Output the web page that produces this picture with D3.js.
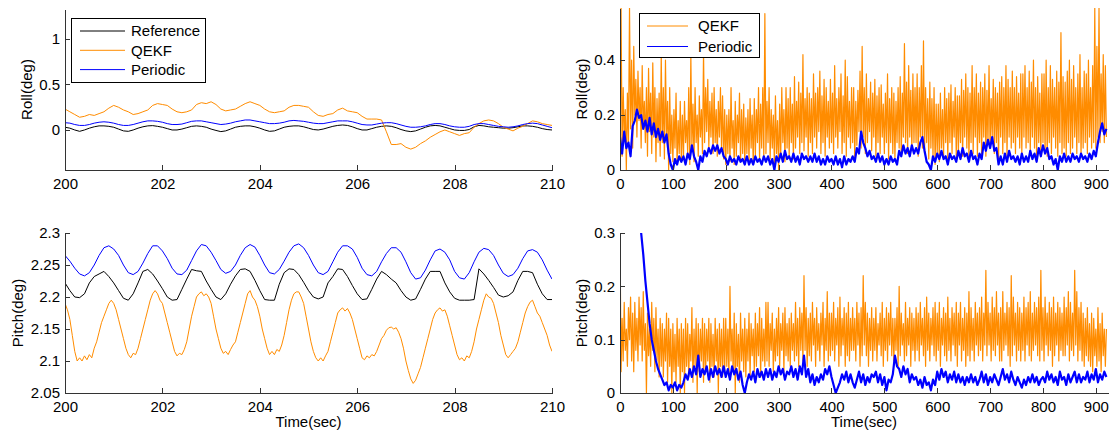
<!DOCTYPE html>
<html>
<head>
<meta charset="utf-8">
<script src="https://cdn.jsdelivr.net/npm/d3@7"></script>
<style>
  body { margin: 0; background: #fff; }
  svg text { font-family: "Liberation Sans", Arial, sans-serif; font-size: 15px; fill: #000; }
</style>
</head>
<body>
<svg id="chart" width="1113" height="434"></svg>
<script>
// ---- data: short window (200-210 s), sampled every 0.1 s unless noted ----
const zoomStart = 200;
const zoomXTicks = [200, 202, 204, 206, 208, 210];
const rollZoomYTicks = [0, 0.5, 1];
const pitchZoomYTicks = [2.05, 2.1, 2.15, 2.2, 2.25, 2.3];

const rollRef = [
  0.03, 0.02, 0.0, -0.015, 0.0, 0.02, 0.035, 0.045, 0.045, 0.04,
  0.03, 0.01, -0.01, -0.015, 0.0, 0.02, 0.035, 0.045, 0.048, 0.04,
  0.03, 0.015, 0.0, 0.0, 0.01, 0.025, 0.04, 0.045, 0.04, 0.03,
  0.01, -0.005, -0.018, -0.01, 0.01, 0.03, 0.04, 0.045, 0.045, 0.035,
  0.02, 0.0, -0.015, -0.01, 0.01, 0.03, 0.04, 0.045, 0.045, 0.035,
  0.02, 0.005, 0.0, 0.01, 0.025, 0.04, 0.05, 0.055, 0.05, 0.035,
  0.015, 0.0, 0.0, 0.015, 0.03, 0.04, 0.045, 0.04, 0.025, 0.005,
  -0.01, -0.018, -0.01, 0.01, 0.03, 0.045, 0.05, 0.045, 0.03, 0.015,
  0.0, -0.005, -0.005, 0.005, 0.035, 0.05, 0.045, 0.035, 0.03, 0.025,
  0.02, 0.02, 0.025, 0.035, 0.045, 0.045, 0.04, 0.03, 0.015, 0.005,
  0.0
];
const rollQekf = [
  0.23, 0.2, 0.17, 0.14, 0.15, 0.17, 0.16, 0.18, 0.2, 0.24,
  0.27, 0.25, 0.22, 0.2, 0.17, 0.18, 0.2, 0.22, 0.27, 0.29,
  0.28, 0.27, 0.23, 0.2, 0.19, 0.2, 0.22, 0.28, 0.3, 0.29,
  0.31, 0.28, 0.23, 0.21, 0.22, 0.23, 0.26, 0.29, 0.31, 0.29,
  0.27, 0.23, 0.2, 0.19, 0.2, 0.21, 0.25, 0.27, 0.27, 0.26,
  0.25, 0.2, 0.16, 0.15, 0.17, 0.18, 0.22, 0.24, 0.21, 0.2,
  0.19, 0.15, 0.12, 0.12, 0.12, 0.11, -0.02, -0.16, -0.16, -0.15,
  -0.19, -0.21, -0.19, -0.15, -0.12, -0.08, -0.05, -0.02, 0.0, -0.02,
  -0.04, -0.06, -0.04, -0.03, 0.03, 0.07, 0.1, 0.11, 0.1, 0.07,
  0.03, 0.01, -0.01, 0.02, 0.04, 0.07, 0.1, 0.09, 0.07, 0.06,
  0.05
];
const rollPer = [
  0.08, 0.075, 0.06, 0.05, 0.05, 0.06, 0.075, 0.085, 0.09, 0.085,
  0.075, 0.06, 0.05, 0.05, 0.06, 0.075, 0.09, 0.1, 0.1, 0.095,
  0.085, 0.07, 0.06, 0.06, 0.065, 0.08, 0.095, 0.1, 0.1, 0.09,
  0.08, 0.07, 0.06, 0.065, 0.075, 0.09, 0.1, 0.11, 0.11, 0.1,
  0.09, 0.08, 0.07, 0.07, 0.075, 0.085, 0.1, 0.105, 0.1, 0.095,
  0.085, 0.075, 0.07, 0.07, 0.08, 0.09, 0.1, 0.1, 0.1, 0.09,
  0.075, 0.06, 0.055, 0.055, 0.065, 0.075, 0.08, 0.08, 0.07, 0.055,
  0.04, 0.03, 0.03, 0.035, 0.045, 0.06, 0.07, 0.07, 0.06, 0.045,
  0.035, 0.03, 0.03, 0.04, 0.06, 0.07, 0.07, 0.06, 0.05, 0.04,
  0.035, 0.03, 0.035, 0.045, 0.06, 0.07, 0.075, 0.07, 0.055, 0.04,
  0.025
];

const pitchRef = [
  2.222, 2.21, 2.2, 2.199, 2.205, 2.222, 2.232, 2.236, 2.24, 2.232,
  2.222, 2.21, 2.198, 2.195, 2.205, 2.222, 2.24, 2.243, 2.236, 2.225,
  2.213, 2.2, 2.195, 2.196, 2.212, 2.228, 2.243, 2.241, 2.24, 2.225,
  2.212, 2.2, 2.196, 2.205, 2.22, 2.233, 2.243, 2.244, 2.24, 2.226,
  2.21, 2.196, 2.195, 2.195, 2.22, 2.238, 2.244, 2.243, 2.235, 2.223,
  2.21, 2.2, 2.197, 2.2, 2.222, 2.232, 2.244, 2.243, 2.232, 2.218,
  2.205, 2.196, 2.197, 2.212, 2.228, 2.24, 2.235, 2.228, 2.222, 2.21,
  2.2, 2.195, 2.197, 2.212, 2.228, 2.24, 2.24, 2.24, 2.222, 2.208,
  2.198, 2.195, 2.195, 2.195, 2.196, 2.244, 2.236, 2.226, 2.215, 2.203,
  2.2, 2.202, 2.208, 2.226, 2.24, 2.24, 2.238, 2.22, 2.205, 2.196,
  2.196
];
// QEKF pitch is noisier, sampled every 0.05 s
const pitchQekf = [
  2.19, 2.18, 2.165, 2.14, 2.115, 2.1, 2.105, 2.1, 2.108, 2.102, 2.11, 2.105, 2.12, 2.13, 2.145, 2.16, 2.17, 2.18, 2.19, 2.195,
  2.19, 2.18, 2.165, 2.15, 2.135, 2.12, 2.11, 2.105, 2.112, 2.11, 2.12, 2.135, 2.15, 2.165, 2.18, 2.195, 2.205, 2.21, 2.205, 2.195,
  2.19, 2.175, 2.16, 2.145, 2.13, 2.115, 2.108, 2.112, 2.11, 2.118, 2.13, 2.15, 2.17, 2.185, 2.2, 2.205, 2.208, 2.202, 2.205, 2.2,
  2.19, 2.17, 2.15, 2.135, 2.12, 2.112, 2.115, 2.11, 2.118, 2.125, 2.13, 2.145, 2.16, 2.175, 2.19, 2.205, 2.21, 2.2, 2.195, 2.185,
  2.17, 2.15, 2.135, 2.12, 2.11, 2.115, 2.11, 2.118, 2.115, 2.125, 2.14, 2.16, 2.18, 2.195, 2.205, 2.208, 2.208, 2.2, 2.19, 2.17,
  2.15, 2.13, 2.115, 2.105, 2.1, 2.105, 2.1, 2.108, 2.115, 2.13, 2.145, 2.16, 2.175, 2.18, 2.183, 2.178, 2.182, 2.175, 2.165, 2.15,
  2.135, 2.12, 2.105, 2.102, 2.108, 2.105, 2.11, 2.108, 2.115, 2.125, 2.135, 2.14, 2.148, 2.152, 2.153, 2.15, 2.152, 2.145, 2.135, 2.12,
  2.1, 2.085, 2.072, 2.065, 2.07, 2.08, 2.09, 2.105, 2.12, 2.135, 2.15, 2.165, 2.175, 2.18, 2.183, 2.178, 2.18, 2.17, 2.155, 2.14,
  2.125, 2.11, 2.102, 2.105, 2.1, 2.108, 2.105, 2.115, 2.13, 2.15, 2.165, 2.18, 2.195, 2.205, 2.2, 2.198, 2.19, 2.175, 2.16, 2.14,
  2.125, 2.11, 2.105, 2.11, 2.115, 2.12, 2.13, 2.145, 2.16, 2.175, 2.185, 2.192, 2.195, 2.185, 2.175, 2.17, 2.16, 2.15, 2.14, 2.125,
  2.115
];
const pitchPer = [
  2.265, 2.256, 2.245, 2.236, 2.233, 2.238, 2.25, 2.265, 2.277, 2.28,
  2.275, 2.265, 2.25, 2.238, 2.235, 2.24, 2.253, 2.268, 2.28, 2.28,
  2.272, 2.26, 2.245, 2.236, 2.235, 2.242, 2.257, 2.272, 2.282, 2.28,
  2.27, 2.257, 2.243, 2.237, 2.24, 2.25, 2.265, 2.277, 2.282, 2.278,
  2.265, 2.25, 2.238, 2.236, 2.243, 2.256, 2.27, 2.28, 2.283, 2.277,
  2.265, 2.25, 2.238, 2.235, 2.24, 2.255, 2.27, 2.28, 2.28, 2.275,
  2.262, 2.245, 2.235, 2.233, 2.24, 2.255, 2.268, 2.277, 2.277, 2.27,
  2.255, 2.238, 2.228, 2.23, 2.242, 2.258, 2.272, 2.275, 2.27, 2.258,
  2.24, 2.23, 2.228, 2.238, 2.255, 2.27, 2.276, 2.274, 2.265, 2.25,
  2.237, 2.232, 2.235, 2.245, 2.26, 2.272, 2.274, 2.27, 2.258, 2.242,
  2.228
];

// ---- data: full run (0-920 s); QEKF every 2 s, Periodic every 4 s ----
const fullXTicks = [0, 100, 200, 300, 400, 500, 600, 700, 800, 900];
const rollFullYTicks = [0, 0.2, 0.4];
const pitchFullYTicks = [0, 0.1, 0.2, 0.3];

const rollErrQekf = [
  0.15, 0.59, 0.05, 0.3, 0.12, 0.22, 0.0, 0.28, 0.1, 0.59, 0.15, 0.4, 0.08, 0.45, 0.2, 0.33, 0.12, 0.36, 0.18, 0.3,
  0.08, 0.38, 0.15, 0.25, 0.1, 0.3, 0.05, 0.37, 0.14, 0.28, 0.06, 0.39, 0.12, 0.3, 0.03, 0.26, 0.1, 0.28, 0.05, 0.42,
  0.1, 0.3, 0.04, 0.4, 0.12, 0.25, 0.0, 0.3, 0.06, 0.2, 0.03, 0.22, 0.08, 0.28, 0.02, 0.18, 0.06, 0.25, 0.03, 0.2,
  0.04, 0.25, 0.1, 0.18, 0.06, 0.3, 0.02, 0.42, 0.08, 0.24, 0.03, 0.3, 0.1, 0.2, 0.05, 0.27, 0.12, 0.22, 0.06, 0.43,
  0.1, 0.3, 0.14, 0.33, 0.08, 0.25, 0.12, 0.28, 0.06, 0.3, 0.1, 0.22, 0.05, 0.25, 0.12, 0.3, 0.08, 0.27, 0.04, 0.22,
  0.02, 0.2, 0.06, 0.22, 0.03, 0.3, 0.08, 0.18, 0.02, 0.25, 0.05, 0.2, 0.1, 0.28, 0.03, 0.22, 0.06, 0.24, 0.02, 0.19,
  0.06, 0.22, 0.03, 0.26, 0.08, 0.2, 0.02, 0.26, 0.05, 0.22, 0.1, 0.3, 0.04, 0.24, 0.08, 0.3, 0.04, 0.57, 0.06, 0.25,
  0.1, 0.3, 0.04, 0.22, 0.08, 0.2, 0.02, 0.27, 0.06, 0.18, 0.0, 0.24, 0.05, 0.3, 0.1, 0.22, 0.03, 0.3, 0.08, 0.26,
  0.05, 0.3, 0.1, 0.24, 0.04, 0.34, 0.08, 0.25, 0.12, 0.32, 0.06, 0.28, 0.1, 0.42, 0.07, 0.26, 0.12, 0.3, 0.05, 0.28,
  0.1, 0.26, 0.06, 0.35, 0.12, 0.28, 0.08, 0.3, 0.14, 0.36, 0.06, 0.27, 0.1, 0.33, 0.05, 0.3, 0.12, 0.25, 0.08, 0.33,
  0.1, 0.28, 0.06, 0.38, 0.12, 0.26, 0.08, 0.3, 0.14, 0.35, 0.06, 0.27, 0.1, 0.4, 0.05, 0.34, 0.12, 0.25, 0.08, 0.3,
  0.1, 0.3, 0.04, 0.25, 0.09, 0.29, 0.14, 0.36, 0.08, 0.45, 0.12, 0.3, 0.06, 0.35, 0.1, 0.26, 0.14, 0.32, 0.07, 0.28,
  0.12, 0.33, 0.05, 0.27, 0.1, 0.3, 0.06, 0.31, 0.12, 0.24, 0.06, 0.28, 0.1, 0.35, 0.04, 0.26, 0.1, 0.3, 0.06, 0.28,
  0.04, 0.25, 0.1, 0.3, 0.08, 0.34, 0.05, 0.28, 0.12, 0.46, 0.1, 0.32, 0.06, 0.38, 0.12, 0.29, 0.07, 0.35, 0.1, 0.3,
  0.1, 0.35, 0.05, 0.3, 0.12, 0.38, 0.08, 0.47, 0.06, 0.3, 0.1, 0.26, 0.04, 0.32, 0.08, 0.26, 0.05, 0.3, 0.02, 0.24,
  0.06, 0.24, 0.03, 0.28, 0.08, 0.22, 0.05, 0.3, 0.1, 0.26, 0.04, 0.28, 0.1, 0.31, 0.06, 0.25, 0.12, 0.3, 0.05, 0.27,
  0.06, 0.27, 0.1, 0.33, 0.05, 0.29, 0.12, 0.35, 0.08, 0.3, 0.04, 0.28, 0.1, 0.38, 0.06, 0.3, 0.12, 0.35, 0.05, 0.28,
  0.1, 0.32, 0.06, 0.3, 0.12, 0.35, 0.05, 0.29, 0.1, 0.38, 0.08, 0.26, 0.12, 0.33, 0.06, 0.3, 0.1, 0.28, 0.04, 0.32,
  0.12, 0.34, 0.06, 0.3, 0.1, 0.38, 0.05, 0.33, 0.12, 0.3, 0.08, 0.36, 0.1, 0.3, 0.06, 0.34, 0.12, 0.28, 0.08, 0.35,
  0.06, 0.35, 0.12, 0.38, 0.08, 0.3, 0.1, 0.36, 0.06, 0.32, 0.12, 0.4, 0.08, 0.3, 0.05, 0.34, 0.1, 0.28, 0.06, 0.35,
  0.1, 0.35, 0.06, 0.4, 0.05, 0.3, 0.1, 0.38, 0.06, 0.33, 0.12, 0.3, 0.08, 0.36, 0.05, 0.32, 0.1, 0.5, 0.06, 0.34,
  0.08, 0.32, 0.05, 0.36, 0.1, 0.4, 0.06, 0.33, 0.08, 0.38, 0.12, 0.3, 0.06, 0.35, 0.1, 0.42, 0.05, 0.3, 0.08, 0.36,
  0.1, 0.35, 0.06, 0.4, 0.12, 0.3, 0.08, 0.38, 0.1, 0.59, 0.08, 0.45, 0.12, 0.59, 0.1, 0.35, 0.14, 0.42, 0.1, 0.38,
  0.12
];
const rollErrPer = [
  0.12, 0.06, 0.14, 0.08, 0.1, 0.05, 0.16, 0.18, 0.22, 0.19,
  0.2, 0.15, 0.18, 0.14, 0.19, 0.13, 0.17, 0.12, 0.15, 0.11,
  0.14, 0.1, 0.13, 0.06, 0.02, 0.0, 0.04, 0.02, 0.05, 0.03,
  0.05, 0.02, 0.06, 0.04, 0.09, 0.05, 0.03, 0.0, 0.05, 0.03,
  0.07, 0.05, 0.08, 0.06, 0.09, 0.07, 0.09, 0.06, 0.08, 0.05,
  0.04, 0.02, 0.05, 0.03, 0.04, 0.02, 0.05, 0.03, 0.04, 0.02,
  0.05, 0.02, 0.04, 0.02, 0.05, 0.03, 0.04, 0.02, 0.05, 0.03,
  0.05, 0.02, 0.04, 0.0, 0.05, 0.03, 0.06, 0.03, 0.07, 0.04,
  0.05, 0.03, 0.06, 0.03, 0.05, 0.02, 0.06, 0.04, 0.05, 0.03,
  0.05, 0.03, 0.06, 0.03, 0.05, 0.02, 0.04, 0.02, 0.05, 0.03,
  0.04, 0.02, 0.05, 0.02, 0.04, 0.01, 0.05, 0.02, 0.04, 0.03,
  0.05, 0.03, 0.08, 0.06, 0.14, 0.1, 0.08, 0.05, 0.07, 0.04,
  0.05, 0.03, 0.06, 0.03, 0.05, 0.02, 0.04, 0.02, 0.05, 0.03,
  0.04, 0.02, 0.07, 0.05, 0.09, 0.06, 0.08, 0.05, 0.09, 0.06,
  0.08, 0.06, 0.1, 0.12, 0.07, 0.03, 0.02, 0.0, 0.05, 0.03,
  0.06, 0.04, 0.07, 0.04, 0.05, 0.02, 0.06, 0.04, 0.05, 0.03,
  0.07, 0.04, 0.08, 0.05, 0.06, 0.03, 0.07, 0.04, 0.05, 0.02,
  0.06, 0.04, 0.1, 0.07, 0.11, 0.08, 0.12, 0.07, 0.08, 0.02,
  0.05, 0.02, 0.06, 0.03, 0.07, 0.04, 0.05, 0.03, 0.05, 0.02,
  0.06, 0.03, 0.05, 0.03, 0.07, 0.04, 0.06, 0.03, 0.08, 0.05,
  0.09, 0.06, 0.08, 0.04, 0.05, 0.02, 0.04, 0.0, 0.05, 0.03,
  0.06, 0.03, 0.05, 0.03, 0.06, 0.04, 0.05, 0.03, 0.06, 0.04,
  0.05, 0.03, 0.06, 0.04, 0.07, 0.05, 0.1, 0.14, 0.17, 0.13,
  0.15
];
const pitchErrQekf = [
  0.3, 0.04, 0.14, 0.06, 0.17, 0.08, 0.12, 0.05, 0.16, 0.1, 0.18, 0.06, 0.15, 0.04, 0.17, 0.08, 0.14, 0.06, 0.18, 0.09,
  0.16, 0.06, 0.19, 0.08, 0.13, 0.0, 0.15, 0.07, 0.12, 0.05, 0.17, 0.08, 0.14, 0.04, 0.16, 0.06, 0.12, 0.03, 0.14, 0.05,
  0.13, 0.03, 0.12, 0.06, 0.15, 0.02, 0.14, 0.05, 0.12, 0.0, 0.13, 0.04, 0.11, 0.02, 0.14, 0.05, 0.12, 0.0, 0.13, 0.04,
  0.12, 0.0, 0.14, 0.05, 0.13, 0.03, 0.11, 0.06, 0.16, 0.02, 0.12, 0.05, 0.14, 0.0, 0.13, 0.04, 0.12, 0.06, 0.14, 0.02,
  0.13, 0.04, 0.12, 0.06, 0.14, 0.02, 0.13, 0.05, 0.11, 0.03, 0.14, 0.06, 0.12, 0.0, 0.13, 0.05, 0.12, 0.03, 0.14, 0.04,
  0.14, 0.05, 0.12, 0.03, 0.2, 0.06, 0.12, 0.04, 0.15, 0.0, 0.13, 0.05, 0.11, 0.02, 0.15, 0.06, 0.12, 0.04, 0.14, 0.03,
  0.12, 0.06, 0.15, 0.03, 0.13, 0.07, 0.12, 0.04, 0.15, 0.05, 0.13, 0.07, 0.16, 0.03, 0.14, 0.06, 0.12, 0.05, 0.17, 0.06,
  0.17, 0.05, 0.13, 0.08, 0.15, 0.04, 0.12, 0.06, 0.14, 0.07, 0.16, 0.05, 0.13, 0.08, 0.15, 0.04, 0.16, 0.07, 0.13, 0.06,
  0.14, 0.05, 0.15, 0.08, 0.13, 0.06, 0.17, 0.07, 0.14, 0.05, 0.16, 0.08, 0.15, 0.06, 0.22, 0.08, 0.16, 0.05, 0.14, 0.07,
  0.15, 0.06, 0.17, 0.09, 0.14, 0.05, 0.16, 0.08, 0.13, 0.06, 0.15, 0.09, 0.17, 0.05, 0.14, 0.08, 0.19, 0.06, 0.15, 0.07,
  0.15, 0.08, 0.17, 0.06, 0.14, 0.09, 0.16, 0.05, 0.18, 0.07, 0.14, 0.09, 0.16, 0.05, 0.15, 0.07, 0.17, 0.06, 0.14, 0.08,
  0.16, 0.08, 0.14, 0.06, 0.17, 0.09, 0.15, 0.05, 0.16, 0.07, 0.22, 0.09, 0.17, 0.07, 0.15, 0.05, 0.14, 0.08, 0.16, 0.06,
  0.14, 0.08, 0.16, 0.06, 0.13, 0.09, 0.15, 0.07, 0.17, 0.05, 0.14, 0.08, 0.16, 0.06, 0.15, 0.09, 0.17, 0.07, 0.14, 0.06,
  0.14, 0.08, 0.16, 0.05, 0.2, 0.07, 0.15, 0.09, 0.13, 0.06, 0.17, 0.07, 0.14, 0.09, 0.16, 0.05, 0.15, 0.08, 0.14, 0.06,
  0.16, 0.08, 0.15, 0.06, 0.17, 0.09, 0.14, 0.07, 0.16, 0.05, 0.18, 0.08, 0.15, 0.06, 0.14, 0.09, 0.16, 0.07, 0.17, 0.06,
  0.15, 0.08, 0.17, 0.05, 0.14, 0.09, 0.16, 0.07, 0.15, 0.06, 0.18, 0.08, 0.14, 0.06, 0.16, 0.09, 0.15, 0.07, 0.17, 0.05,
  0.15, 0.09, 0.17, 0.06, 0.14, 0.08, 0.16, 0.05, 0.15, 0.07, 0.19, 0.06, 0.16, 0.08, 0.14, 0.06, 0.17, 0.09, 0.15, 0.07,
  0.16, 0.08, 0.18, 0.06, 0.15, 0.09, 0.23, 0.07, 0.17, 0.09, 0.15, 0.06, 0.18, 0.08, 0.16, 0.07, 0.19, 0.09, 0.15, 0.06,
  0.16, 0.06, 0.19, 0.08, 0.15, 0.09, 0.17, 0.07, 0.16, 0.05, 0.22, 0.07, 0.18, 0.09, 0.15, 0.06, 0.17, 0.08, 0.16, 0.06,
  0.15, 0.08, 0.18, 0.06, 0.16, 0.09, 0.17, 0.07, 0.19, 0.06, 0.15, 0.08, 0.17, 0.09, 0.16, 0.07, 0.18, 0.06, 0.23, 0.08,
  0.16, 0.06, 0.18, 0.09, 0.15, 0.07, 0.17, 0.08, 0.16, 0.05, 0.18, 0.07, 0.15, 0.09, 0.17, 0.06, 0.16, 0.08, 0.15, 0.07,
  0.18, 0.07, 0.16, 0.09, 0.19, 0.06, 0.17, 0.08, 0.15, 0.07, 0.23, 0.09, 0.19, 0.06, 0.16, 0.08, 0.17, 0.06, 0.15, 0.05,
  0.14, 0.07, 0.16, 0.06, 0.13, 0.05, 0.15, 0.04, 0.14, 0.07, 0.12, 0.05, 0.16, 0.06, 0.13, 0.04, 0.15, 0.07, 0.12, 0.05,
  0.12
];
// Periodic pitch error starts at t = 40 s
const pitchErrPerStart = 40;
const pitchErrPer = [
  0.3, 0.26, 0.21, 0.17, 0.13, 0.1, 0.08, 0.06, 0.045, 0.035,
  0.025, 0.015, 0.02, 0.005, 0.015, 0.01, 0.02, 0.005, 0.015, 0.01,
  0.02, 0.035, 0.025, 0.045, 0.03, 0.05, 0.035, 0.07, 0.03, 0.045,
  0.035, 0.05, 0.025, 0.045, 0.03, 0.05, 0.035, 0.045, 0.03, 0.05,
  0.03, 0.045, 0.025, 0.05, 0.035, 0.045, 0.025, 0.04, 0.015, 0.0,
  0.02, 0.035, 0.025, 0.04, 0.02, 0.045, 0.03, 0.04, 0.025, 0.045,
  0.03, 0.045, 0.025, 0.04, 0.03, 0.05, 0.035, 0.045, 0.025, 0.04,
  0.035, 0.05, 0.03, 0.045, 0.025, 0.05, 0.035, 0.07, 0.03, 0.045,
  0.02, 0.035, 0.015, 0.03, 0.02, 0.035, 0.025, 0.045, 0.035, 0.05,
  0.03, 0.015, 0.0, 0.01, 0.02, 0.035, 0.025, 0.04, 0.02, 0.035,
  0.02, 0.01, 0.025, 0.04, 0.02, 0.035, 0.015, 0.03, 0.02, 0.035,
  0.03, 0.04, 0.02, 0.035, 0.015, 0.03, 0.005, 0.025, 0.02, 0.035,
  0.07, 0.05, 0.045, 0.03, 0.05, 0.035, 0.045, 0.02, 0.035, 0.025,
  0.03, 0.015, 0.025, 0.01, 0.03, 0.015, 0.02, 0.005, 0.025, 0.015,
  0.04, 0.025, 0.045, 0.03, 0.04, 0.02, 0.035, 0.025, 0.04, 0.02,
  0.035, 0.02, 0.03, 0.015, 0.03, 0.02, 0.035, 0.02, 0.03, 0.015,
  0.025, 0.04, 0.02, 0.035, 0.015, 0.03, 0.02, 0.035, 0.025, 0.015,
  0.03, 0.045, 0.025, 0.035, 0.02, 0.04, 0.025, 0.015, 0.03, 0.02,
  0.01, 0.025, 0.015, 0.03, 0.02, 0.035, 0.02, 0.03, 0.015, 0.025,
  0.03, 0.02, 0.04, 0.025, 0.035, 0.02, 0.03, 0.015, 0.04, 0.025,
  0.03, 0.015, 0.035, 0.02, 0.03, 0.04, 0.02, 0.035, 0.02, 0.03,
  0.025, 0.04, 0.02, 0.035, 0.025, 0.045, 0.02, 0.035, 0.025, 0.04,
  0.03
];

// ---- drawing ----
const svg = d3.select('svg#chart');
const colors = {ref: '#000000', qekf: '#ff8c00', per: '#0000ff'};

// turn an evenly sampled array into [t, value] pairs
function sampled(t0, dt, values) {
  return values.map((v, i) => [t0 + i * dt, v]);
}

const panels = [
  {
    box: {left: 65, right: 552, top: 9, bottom: 170},
    xDomain: [200, 210], yDomain: [-0.44, 1.33],
    xTicks: zoomXTicks, yTicks: rollZoomYTicks,
    yLabel: 'Roll(deg)', yLabelX: 27, xLabel: null,
    lines: [
      {name: 'Reference', color: colors.ref, width: 1, data: sampled(zoomStart, 0.1, rollRef)},
      {name: 'QEKF', color: colors.qekf, width: 1, data: sampled(zoomStart, 0.1, rollQekf)},
      {name: 'Periodic', color: colors.per, width: 1, data: sampled(zoomStart, 0.1, rollPer)}
    ],
    legend: {x: 71, y: 18, w: 134, h: 64, row0: 13, rowGap: 19.3, line: [9, 54], text: 60}
  },
  {
    box: {left: 620, right: 1108, top: 8, bottom: 170},
    xDomain: [0, 923], yDomain: [0, 0.59],
    xTicks: fullXTicks, yTicks: rollFullYTicks,
    yLabel: 'Roll(deg)', yLabelX: 582, xLabel: null,
    lines: [
      {name: 'QEKF', color: colors.qekf, width: 1.2, data: sampled(0, 2, rollErrQekf)},
      {name: 'Periodic', color: colors.per, width: 2.2, data: sampled(0, 4, rollErrPer)}
    ],
    legend: {x: 639, y: 13, w: 120, h: 44, row0: 13, rowGap: 20.5, line: [8, 49], text: 59}
  },
  {
    box: {left: 65, right: 552, top: 233, bottom: 393},
    xDomain: [200, 210], yDomain: [2.05, 2.3],
    xTicks: zoomXTicks, yTicks: pitchZoomYTicks,
    yLabel: 'Pitch(deg)', yLabelX: 18, xLabel: 'Time(sec)',
    lines: [
      {name: 'Reference', color: colors.ref, width: 1, data: sampled(zoomStart, 0.1, pitchRef)},
      {name: 'QEKF', color: colors.qekf, width: 1, data: sampled(zoomStart, 0.05, pitchQekf)},
      {name: 'Periodic', color: colors.per, width: 1, data: sampled(zoomStart, 0.1, pitchPer)}
    ]
  },
  {
    box: {left: 620, right: 1108, top: 233, bottom: 393},
    xDomain: [0, 923], yDomain: [0, 0.3],
    xTicks: fullXTicks, yTicks: pitchFullYTicks,
    yLabel: 'Pitch(deg)', yLabelX: 582, xLabel: 'Time(sec)',
    lines: [
      {name: 'QEKF', color: colors.qekf, width: 1.2, data: sampled(0, 2, pitchErrQekf)},
      {name: 'Periodic', color: colors.per, width: 2.2, data: sampled(pitchErrPerStart, 4, pitchErrPer)}
    ]
  }
];

panels.forEach(drawPanel);

function drawPanel(p, i) {
  const b = p.box;
  const x = d3.scaleLinear().domain(p.xDomain).range([b.left, b.right]);
  const y = d3.scaleLinear().domain(p.yDomain).range([b.bottom, b.top]);
  const g = svg.append('g').attr('class', 'panel');

  g.append('clipPath').attr('id', `clip${i}`)
    .append('rect')
      .attr('x', b.left).attr('y', b.top)
      .attr('width', b.right - b.left).attr('height', b.bottom - b.top);

  const line = d3.line().x(d => x(d[0])).y(d => y(d[1]));

  g.append('g').attr('clip-path', `url(#clip${i})`)
    .selectAll('path')
    .data(p.lines)
    .enter().append('path')
      .attr('d', d => line(d.data))
      .style('fill', 'none')
      .style('stroke', d => d.color)
      .style('stroke-width', d => d.width)
      .style('stroke-linejoin', 'round');

  // axes, ticks pointing inward like matlab
  const xAxis = g.append('g')
    .attr('transform', `translate(0, ${b.bottom})`)
    .call(d3.axisBottom(x).tickValues(p.xTicks).tickFormat(d3.format('d'))
      .tickSize(-5).tickSizeOuter(0).tickPadding(8));
  const yAxis = g.append('g')
    .attr('transform', `translate(${b.left}, 0)`)
    .call(d3.axisLeft(y).tickValues(p.yTicks).tickFormat(d => String(d))
      .tickSize(-5).tickSizeOuter(0).tickPadding(5));

  [xAxis, yAxis].forEach(a => {
    a.attr('font-size', null).attr('font-family', null);
    a.selectAll('path, line').attr('stroke', '#333').attr('shape-rendering', 'crispEdges');
    a.selectAll('text').attr('fill', '#000');
  });

  g.append('text')
    .attr('transform', `translate(${p.yLabelX}, ${(b.top + b.bottom) / 2}) rotate(-90)`)
    .attr('text-anchor', 'middle')
    .attr('dy', '0.35em')
    .text(p.yLabel);

  if (p.xLabel) {
    g.append('text')
      .attr('x', (b.left + b.right) / 2)
      .attr('y', b.bottom + 34)
      .attr('text-anchor', 'middle')
      .text(p.xLabel);
  }

  if (p.legend) drawLegend(g, p.legend, p.lines);
}

function drawLegend(g, L, lines) {
  const lg = g.append('g').attr('transform', `translate(${L.x}, ${L.y})`);
  lg.append('rect')
    .attr('width', L.w).attr('height', L.h)
    .attr('fill', '#fff').attr('stroke', '#000').attr('stroke-width', 1)
    .attr('shape-rendering', 'crispEdges');

  const rows = lg.selectAll('g.row')
    .data(lines)
    .enter().append('g')
      .attr('class', 'row')
      .attr('transform', (d, i) => `translate(0, ${L.row0 + i * L.rowGap})`);

  rows.append('line')
    .attr('x1', L.line[0]).attr('x2', L.line[1])
    .attr('stroke', d => d.color).attr('stroke-width', 1);

  rows.append('text')
    .attr('x', L.text)
    .attr('dy', '0.35em')
    .text(d => d.name);
}
</script>
</body>
</html>
